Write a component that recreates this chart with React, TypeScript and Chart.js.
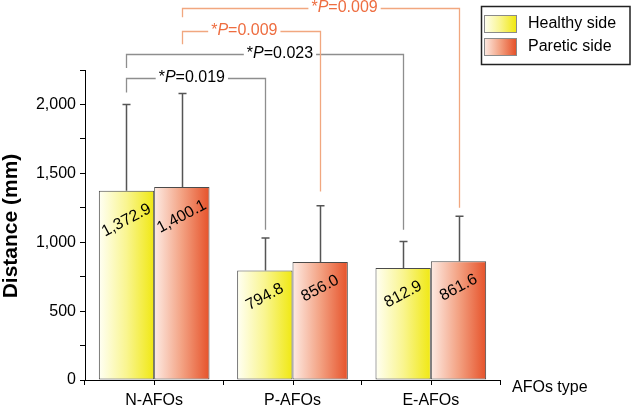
import React, { useEffect, useRef } from 'react';
import { Chart, registerables } from 'chart.js';

Chart.register(...registerables);

const FONT = '"Liberation Sans", Arial, Helvetica, sans-serif';

// ---- data ----
const categories = ['N-AFOs', 'P-AFOs', 'E-AFOs'];
const seriesNames = ['Healthy side', 'Paretic side'];
const healthyMean = [1372.9, 794.8, 812.9];
const pareticMean = [1400.1, 856.0, 861.6];
const healthyUpper = [2000, 1030, 1006];
const pareticUpper = [2080, 1265, 1188];
const yMin = 0;
const yMax = 2250;
const yStep = 250;
const yLabelStep = 500;
const yTitle = 'Distance (mm)';
const xTitle = 'AFOs type';

// significance brackets: [series, category]
const bracketP = ['0.019', '0.023', '0.009', '0.009'];
const bracketFrom = [[0, 0], [0, 0], [1, 0], [1, 0]];
const bracketTo = [[0, 1], [0, 2], [1, 1], [1, 2]];
const bracketLevel = [2194, 2369, 2533, 2702];
const bracketFromEnd = [2087, 2265, 2436, 2633];
const bracketToEnd = [1091, 1091, 1369, 1251];
const bracketTextPos = [0.47, 0.554, 0.448, 0.585];

const means = [healthyMean, pareticMean];
const uppers = [healthyUpper, pareticUpper];

const gradStops = [
  ['#fffff4', '#f9f590', '#f0e812'],
  ['#fdebe4', '#f3a283', '#e6522a'],
];
const bracketLine = ['#8e8e8e', '#f1a77f'];
const bracketText = ['#000000', '#ee6d40'];

function makeGrad(ctx: CanvasRenderingContext2D, s: number, x0: number, w: number) {
  const g = ctx.createLinearGradient(x0, 0, x0 + w, 0);
  const st = gradStops[s];
  g.addColorStop(0, st[0]);
  g.addColorStop(0.5, st[1]);
  g.addColorStop(1, st[2]);
  return g;
}

function fmt(v: number) {
  return v.toLocaleString('en-US', { minimumFractionDigits: 1, maximumFractionDigits: 1 });
}

const overlay = {
  id: 'overlay',
  afterDraw(chart: any) {
    const ctx: CanvasRenderingContext2D = chart.ctx;
    const xs = chart.scales.x;
    const ys = chart.scales.y;
    const area = chart.chartArea;
    ctx.save();

    // x-axis center ticks
    ctx.strokeStyle = '#000';
    ctx.lineWidth = 1;
    categories.forEach((_, i) => {
      const x = Math.round(xs.getPixelForValue(i)) + 0.5;
      ctx.beginPath();
      ctx.moveTo(x, area.bottom);
      ctx.lineTo(x, area.bottom + 5);
      ctx.stroke();
    });

    // error bars
    for (let s = 0; s < 2; s++) {
      const meta = chart.getDatasetMeta(s);
      meta.data.forEach((el: any, i: number) => {
        const x = Math.round(el.x) + 0.5;
        const yTop = ys.getPixelForValue(uppers[s][i]);
        ctx.strokeStyle = '#555';
        ctx.lineWidth = 1.5;
        ctx.beginPath();
        ctx.moveTo(x, el.y);
        ctx.lineTo(x, yTop);
        ctx.moveTo(x - 4, yTop);
        ctx.lineTo(x + 4, yTop);
        ctx.stroke();
      });
    }

    // value labels
    ctx.fillStyle = '#000';
    ctx.font = `16px ${FONT}`;
    ctx.textAlign = 'center';
    ctx.textBaseline = 'middle';
    const ang = -28 * Math.PI / 180;
    for (let s = 0; s < 2; s++) {
      const meta = chart.getDatasetMeta(s);
      meta.data.forEach((el: any, i: number) => {
        const t = fmt(means[s][i]);
        const w = ctx.measureText(t).width;
        const cy = el.y + 17 + Math.sin(-ang) * w / 2;
        ctx.save();
        ctx.translate(el.x, cy);
        ctx.rotate(ang);
        ctx.fillText(t, 0, 0);
        ctx.restore();
      });
    }

    // brackets
    bracketP.forEach((p, k) => {
      const [s0, i0] = bracketFrom[k];
      const [s1, i1] = bracketTo[k];
      const x0 = Math.round(chart.getDatasetMeta(s0).data[i0].x) + 0.5;
      const x1 = Math.round(chart.getDatasetMeta(s1).data[i1].x) + 0.5;
      const yL = Math.round(ys.getPixelForValue(bracketLevel[k])) + 0.5;
      const y0 = ys.getPixelForValue(bracketFromEnd[k]);
      const y1 = ys.getPixelForValue(bracketToEnd[k]);
      const col = s0;
      const tx = x0 + (x1 - x0) * bracketTextPos[k];
      const fN = `16px ${FONT}`;
      const fI = `italic 16px ${FONT}`;
      ctx.font = fN;
      const wA = ctx.measureText('*').width;
      const wC = ctx.measureText('=' + p).width;
      ctx.font = fI;
      const wB = ctx.measureText('P').width;
      const tw = wA + wB + wC;
      const tl = tx - tw / 2;
      ctx.strokeStyle = bracketLine[col];
      ctx.lineWidth = 1.3;
      ctx.beginPath();
      ctx.moveTo(x0, y0);
      ctx.lineTo(x0, yL);
      ctx.lineTo(tl - 3, yL);
      ctx.moveTo(tl + tw + 3, yL);
      ctx.lineTo(x1, yL);
      ctx.lineTo(x1, y1);
      ctx.stroke();
      ctx.fillStyle = bracketText[col];
      ctx.textAlign = 'left';
      ctx.textBaseline = 'middle';
      ctx.font = fN;
      ctx.fillText('*', tl, yL - 1);
      ctx.font = fI;
      ctx.fillText('P', tl + wA, yL - 1);
      ctx.font = fN;
      ctx.fillText('=' + p, tl + wA + wB, yL - 1);
    });

    // legend
    ctx.strokeStyle = '#222';
    ctx.lineWidth = 1.5;
    ctx.strokeRect(481.5, 6.5, 148.5, 58);
    seriesNames.forEach((name, s) => {
      const sy = 15 + s * 23;
      ctx.fillStyle = makeGrad(ctx, s, 484, 32);
      ctx.fillRect(484, sy, 32, 17);
      ctx.strokeStyle = '#8a8a8a';
      ctx.lineWidth = 1;
      ctx.strokeRect(484.5, sy + 0.5, 32, 17);
      ctx.fillStyle = '#000';
      ctx.font = `16px ${FONT}`;
      ctx.textAlign = 'left';
      ctx.textBaseline = 'middle';
      ctx.fillText(name, 528, sy + 9);
    });

    // axis titles
    ctx.fillStyle = '#000';
    ctx.font = `16px ${FONT}`;
    ctx.textAlign = 'left';
    ctx.textBaseline = 'middle';
    ctx.fillText(xTitle, 512, 388);

    ctx.save();
    ctx.translate(11, (area.top + area.bottom) / 2 + 1);
    ctx.rotate(-Math.PI / 2);
    ctx.font = `bold 21px ${FONT}`;
    ctx.textAlign = 'center';
    ctx.textBaseline = 'middle';
    ctx.fillText(yTitle, 0, 0);
    ctx.restore();

    ctx.restore();
  },
};

export default function App() {
  const ref = useRef<HTMLCanvasElement | null>(null);
  useEffect(() => {
    if (!ref.current) return;
    const bg = (s: number) => (c: any) => {
      const chart = c.chart;
      if (!chart.chartArea || c.type !== 'data') return gradStops[s][1];
      const xs = chart.scales.x;
      const step = xs.getPixelForValue(1) - xs.getPixelForValue(0);
      const w = (step * 0.8) / 2;
      const cx = xs.getPixelForValue(c.dataIndex);
      const x0 = s === 0 ? cx - w : cx;
      return makeGrad(chart.ctx, s, x0, w);
    };
    const chart = new Chart(ref.current, {
      type: 'bar',
      data: {
        labels: categories,
        datasets: [
          {
            label: seriesNames[0],
            data: healthyMean,
            backgroundColor: bg(0),
            borderColor: '#4a4a4a',
            borderWidth: 1,
            borderSkipped: false,
            categoryPercentage: 0.8,
            barPercentage: 1,
          },
          {
            label: seriesNames[1],
            data: pareticMean,
            backgroundColor: bg(1),
            borderColor: '#4a4a4a',
            borderWidth: 1,
            borderSkipped: false,
            categoryPercentage: 0.8,
            barPercentage: 1,
          },
        ],
      },
      options: {
        responsive: false,
        animation: false,
        layout: { padding: { top: 70, right: 132, bottom: 0, left: 0 } },
        plugins: { legend: { display: false }, tooltip: { enabled: false }, title: { display: false } },
        scales: {
          x: {
            offset: true,
            grid: { display: true, drawOnChartArea: false, drawTicks: true, tickLength: 5, color: '#000', offset: true },
            border: { display: true, color: '#000', width: 1 },
            ticks: { color: '#000', font: { family: FONT, size: 16 }, padding: 6, maxRotation: 0 },
            afterFit: (s: any) => { s.height = 28; },
          },
          y: {
            min: yMin,
            max: yMax,
            grid: { display: true, drawOnChartArea: false, drawTicks: true, tickLength: 5, color: '#000' },
            border: { display: true, color: '#000', width: 1 },
            ticks: {
              stepSize: yStep,
              color: '#000',
              font: { family: FONT, size: 16 },
              padding: 4,
              callback: (v: any) => (Number(v) % yLabelStep === 0 ? Number(v).toLocaleString('en-US') : ''),
            },
            afterFit: (s: any) => { s.width = 85; },
          },
        },
      },
      plugins: [overlay],
    });
    return () => chart.destroy();
  }, []);
  return (
    <div style={{ position: 'absolute', left: 0, top: 0, width: 632, height: 408, background: '#fff' }}>
      <canvas ref={ref} width={632} height={408} style={{ display: 'block' }} />
    </div>
  );
}
